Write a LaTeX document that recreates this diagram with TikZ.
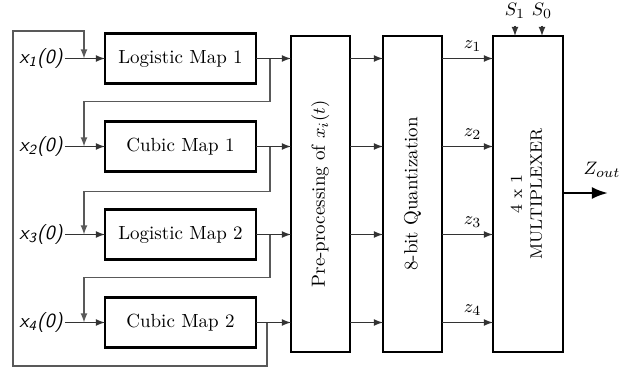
\documentclass[tikz,border=0pt]{standalone}
\usetikzlibrary{positioning,arrows.meta}
\begin{document}
\begin{tikzpicture}[
        x=0.5pt, y=-0.5pt,
        >=latex,
        font=\fontsize{9.5}{11}\selectfont,
        % map blocks on the left
        mapbox/.style={
            rectangle,
            draw,
            line width=1.1pt,
            outer sep=0pt,
            minimum width=75.5pt,
            minimum height=25pt
        },
        % tall processing blocks
        tallbox/.style={
            rectangle,
            draw,
            line width=1.1pt,
            outer sep=0pt,
            minimum width=29.5pt,
            minimum height=158pt
        },
        % signal arrows
        sig/.style={
            ->,
            draw=black!80,
            line width=0.6pt
        },
        % feedback lines
        fb/.style={
            ->,
            draw=black!65,
            line width=0.6pt
        },
        in_label/.style={
            font=\sffamily\itshape\fontsize{10}{12}\selectfont,
            inner sep=1pt
        }
    ]
    \useasboundingbox (0,0) rectangle (629,372);

    % --- 1. map blocks (top to bottom) ---
    \node (lm1) [mapbox] at (180.5,58.5) {Logistic Map 1};
    \node (cm1) [mapbox, below=19pt of lm1] {Cubic Map 1};
    \node (lm2) [mapbox, below=19pt of cm1] {Logistic Map 2};
    \node (cm2) [mapbox, below=19pt of lm2] {Cubic Map 2};

    % initial values
    \node (x1) [in_label, left=20pt of lm1] {x\textsubscript{1}(0)};
    \node (x2) [in_label, left=20pt of cm1] {x\textsubscript{2}(0)};
    \node (x3) [in_label, left=20pt of lm2] {x\textsubscript{3}(0)};
    \node (x4) [in_label, left=20pt of cm2] {x\textsubscript{4}(0)};

    % --- 2. tall blocks (left to right) ---
    \node (pre) [tallbox] at (320.5,194) {\rotatebox{90}{Pre-processing of $x_i(t)$}};
    \node (quant) [tallbox, right=16.5pt of pre] {\rotatebox{90}{8-bit Quantization}};
    \node (mux) [tallbox, minimum width=35pt, right=25.5pt of quant]
        {\rotatebox{90}{\fontsize{8.3}{10}\selectfont\begin{tabular}{c}4 x 1\\MULTIPLEXER\end{tabular}}};

    % select lines and output
    \node (s1) at (515,11) {$S_1$};
    \node (s0) at (542,11) {$S_0$};
    \node (zout) at (602,170) {$Z_{out}$};
    \coordinate (zend) at (608,193);

    % --- 3. inputs into the maps ---
    \draw[sig] (x1.east) -- (lm1.west);
    \draw[sig] (x2.east) -- (cm1.west);
    \draw[sig] (x3.east) -- (lm2.west);
    \draw[sig] (x4.east) -- (cm2.west);

    % joints on the input lines / branch points on the outputs
    \coordinate (j1) at ([xshift=-10.5pt]lm1.west);
    \coordinate (j2) at ([xshift=-10.5pt]cm1.west);
    \coordinate (j3) at ([xshift=-10.5pt]lm2.west);
    \coordinate (j4) at ([xshift=-10.5pt]cm2.west);
    \coordinate (b1) at ([xshift=7pt]lm1.east);
    \coordinate (b2) at ([xshift=7pt]cm1.east);
    \coordinate (b3) at ([xshift=7pt]lm2.east);
    \coordinate (b4) at ([xshift=5.5pt]cm2.east);

    % --- 4. feedback between the maps ---
    \draw[fb] (b1) -- ++(0,43) -| (j2);
    \draw[fb] (b2) -- ++(0,45) -| (j3);
    \draw[fb] (b3) -- ++(0,43) -| (j4);
    \draw[fb] (b4) |- (13,366) -- (13,31) -| (j1);

    % --- 5. maps -> pre-processing -> quantization -> mux ---
    \draw[sig] (lm1.east) -- (lm1.east -| pre.west);
    \draw[sig] (cm1.east) -- (cm1.east -| pre.west);
    \draw[sig] (lm2.east) -- (lm2.east -| pre.west);
    \draw[sig] (cm2.east) -- (cm2.east -| pre.west);

    \draw[sig] (pre.east |- lm1) -- (quant.west |- lm1);
    \draw[sig] (pre.east |- cm1) -- (quant.west |- cm1);
    \draw[sig] (pre.east |- lm2) -- (quant.west |- lm2);
    \draw[sig] (pre.east |- cm2) -- (quant.west |- cm2);

    \draw[sig] (quant.east |- lm1) -- node[above, pos=0.6] {$z_1$} (mux.west |- lm1);
    \draw[sig] (quant.east |- cm1) -- node[above, pos=0.6] {$z_2$} (mux.west |- cm1);
    \draw[sig] (quant.east |- lm2) -- node[above, pos=0.6] {$z_3$} (mux.west |- lm2);
    \draw[sig] (quant.east |- cm2) -- node[above, pos=0.6] {$z_4$} (mux.west |- cm2);

    % select inputs and output
    \draw[sig] (s1) -- (s1 |- mux.north);
    \draw[sig] (s0) -- (s0 |- mux.north);
    \draw[-{Latex[length=8pt,width=6pt]}, line width=1.3pt] (mux.east |- zend) -- (zend);

\end{tikzpicture}
\end{document}
